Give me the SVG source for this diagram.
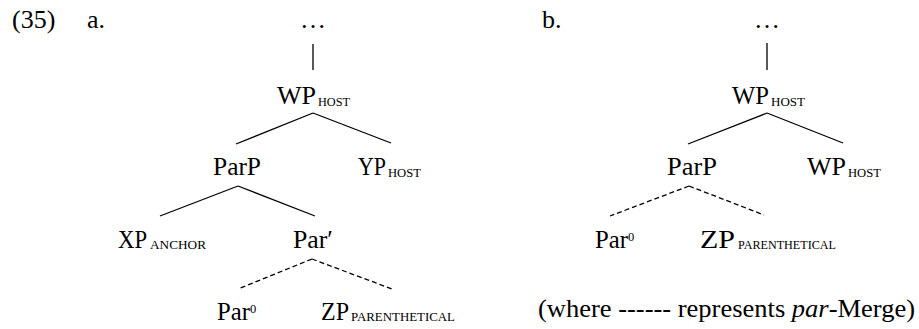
<svg xmlns="http://www.w3.org/2000/svg" width="919" height="329" viewBox="0 0 919 329">
<style>
text{font-family:"Liberation Serif","DejaVu Serif",serif;fill:#000;}
.m{font-size:26px;}
.s{font-size:13.5px;}
.sup{font-size:12.5px;}
.e line{stroke:#000;stroke-width:1.3;}
.e .d{stroke-dasharray:5 3;}
</style>
<rect width="919" height="329" fill="#fff"/>
<g id="labels">
<text class="m" x="12" y="28">(35)</text>
<text class="m" x="87" y="28">a.</text>
<text class="m" x="542" y="28">b.</text>
</g>
<g class="e" id="connectors">
<line x1="313" y1="44" x2="313" y2="70"/>
<line x1="313" y1="113" x2="236" y2="144"/>
<line x1="313" y1="113" x2="391" y2="143"/>
<line x1="238" y1="186" x2="160" y2="216"/>
<line x1="238" y1="186" x2="315" y2="216"/>
<line class="d" x1="312" y1="259" x2="238" y2="289"/>
<line class="d" x1="312" y1="259" x2="392" y2="289"/>
<line x1="767" y1="43" x2="767" y2="70"/>
<line x1="767" y1="113" x2="688" y2="144"/>
<line x1="767" y1="113" x2="843" y2="143"/>
<line class="d" x1="689" y1="186" x2="610" y2="216"/>
<line class="d" x1="689" y1="186" x2="764" y2="215"/>
</g>
<g id="a-top"><text class="m" x="313" y="28" text-anchor="middle">…</text></g>
<g id="a-WP"><text class="m" x="277" y="104" textLength="39" lengthAdjust="spacingAndGlyphs">WP</text><text class="s" x="318" y="106" textLength="32" lengthAdjust="spacingAndGlyphs">HOST</text></g>
<g id="a-ParP"><text class="m" x="213" y="175" textLength="48" lengthAdjust="spacingAndGlyphs">ParP</text></g>
<g id="a-YP"><text class="m" x="358" y="175" textLength="28" lengthAdjust="spacingAndGlyphs">YP</text><text class="s" x="388" y="177" textLength="33" lengthAdjust="spacingAndGlyphs">HOST</text></g>
<g id="a-XP"><text class="m" x="118" y="248" textLength="29" lengthAdjust="spacingAndGlyphs">XP</text><text class="s" x="150" y="249" textLength="56" lengthAdjust="spacingAndGlyphs">ANCHOR</text></g>
<g id="a-Parbar"><text class="m" x="293" y="248" textLength="40" lengthAdjust="spacingAndGlyphs">Par′</text></g>
<g id="a-Par0"><text class="m" x="217" y="320" textLength="33" lengthAdjust="spacingAndGlyphs">Par</text><text class="sup" x="250" y="313">0</text></g>
<g id="a-ZP"><text class="m" x="321" y="320" textLength="28" lengthAdjust="spacingAndGlyphs">ZP</text><text class="s" x="351" y="321" textLength="104" lengthAdjust="spacingAndGlyphs">PARENTHETICAL</text></g>
<g id="b-top"><text class="m" x="767" y="28" text-anchor="middle">…</text></g>
<g id="b-WP"><text class="m" x="732" y="104" textLength="37" lengthAdjust="spacingAndGlyphs">WP</text><text class="s" x="771" y="106" textLength="34" lengthAdjust="spacingAndGlyphs">HOST</text></g>
<g id="b-ParP"><text class="m" x="667" y="175" textLength="50" lengthAdjust="spacingAndGlyphs">ParP</text></g>
<g id="b-WP2"><text class="m" x="807" y="175" textLength="39" lengthAdjust="spacingAndGlyphs">WP</text><text class="s" x="848" y="177" textLength="33" lengthAdjust="spacingAndGlyphs">HOST</text></g>
<g id="b-Par0"><text class="m" x="595" y="248" textLength="33" lengthAdjust="spacingAndGlyphs">Par</text><text class="sup" x="628" y="241">0</text></g>
<g id="b-ZP"><text class="m" x="700" y="248" textLength="35" lengthAdjust="spacingAndGlyphs">ZP</text><text class="s" x="738" y="249" textLength="98" lengthAdjust="spacingAndGlyphs">PARENTHETICAL</text></g>
<g id="caption"><text class="m" x="538" y="317" textLength="377" lengthAdjust="spacingAndGlyphs">(where ------ represents <tspan font-style="italic">par</tspan>-Merge)</text></g>
</svg>
